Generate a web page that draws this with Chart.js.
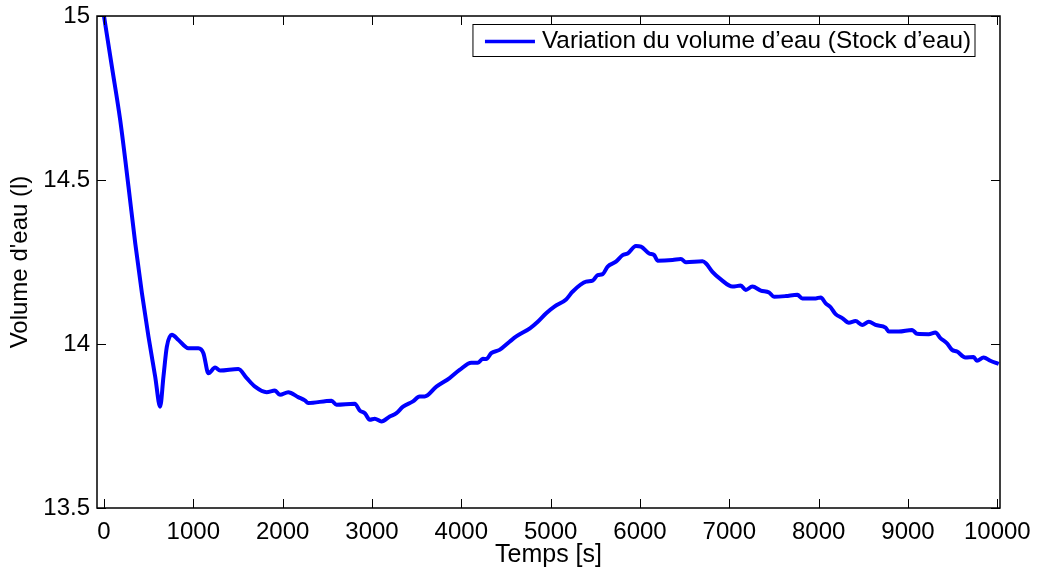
<!DOCTYPE html>
<html>
<head>
<meta charset="utf-8">
<script src="https://cdn.jsdelivr.net/npm/chart.js@4.4.1/dist/chart.umd.min.js"></script>
<style>
  body { margin: 0; background: #fff; }
  #wrap { width: 1037px; height: 574px; }
</style>
</head>
<body>
<div id="wrap"><canvas id="chart" width="1037" height="574"></canvas></div>
<script>
// time (s) and water volume (l)
const TIME_S = [
  0, 89, 182, 275, 350, 425, 498, 573, 629, 666, 704, 760, 834, 945, 1057,
  1113, 1169, 1244, 1299, 1504, 1598, 1691, 1821, 1914, 1970, 2063, 2174,
  2249, 2286, 2547, 2603, 2808, 2864, 2920, 2975, 3031, 3106, 3199, 3274,
  3348, 3459, 3534, 3590, 3721, 3869, 3981, 4112, 4186, 4241, 4279, 4335,
  4428, 4540, 4615, 4768, 4856, 4950, 5042, 5173, 5247, 5397, 5470, 5526,
  5582, 5638, 5731, 5806, 5862, 5955, 6011, 6103, 6159, 6197, 6365, 6458,
  6514, 6700, 6737, 6811, 6905, 7035, 7128, 7184, 7258, 7352, 7445, 7501,
  7631, 7762, 7817, 7967, 8023, 8079, 8134, 8190, 8264, 8338, 8413, 8487,
  8562, 8636, 8749, 8785, 8897, 9046, 9102, 9232, 9307, 9363, 9437, 9493,
  9549, 9642, 9735, 9772, 9847, 9922, 10015
];
const VOLUME_L = [
  15.000, 14.845, 14.682, 14.479, 14.307, 14.155, 14.023, 13.901, 13.809,
  13.901, 13.992, 14.028, 14.012, 13.987, 13.987, 13.972, 13.911, 13.928,
  13.919, 13.924, 13.896, 13.870, 13.853, 13.858, 13.845, 13.853, 13.838,
  13.828, 13.820, 13.827, 13.815, 13.818, 13.797, 13.789, 13.769, 13.772,
  13.764, 13.779, 13.789, 13.809, 13.825, 13.840, 13.840, 13.870, 13.896,
  13.921, 13.943, 13.943, 13.955, 13.954, 13.972, 13.982, 14.007, 14.023,
  14.048, 14.068, 14.094, 14.114, 14.136, 14.160, 14.190, 14.193, 14.210,
  14.213, 14.236, 14.251, 14.271, 14.276, 14.299, 14.297, 14.276, 14.271,
  14.254, 14.256, 14.259, 14.249, 14.252, 14.246, 14.220, 14.197, 14.175,
  14.178, 14.165, 14.175, 14.163, 14.157, 14.144, 14.146, 14.150, 14.139,
  14.139, 14.142, 14.124, 14.112, 14.091, 14.079, 14.065, 14.070, 14.058,
  14.068, 14.058, 14.050, 14.038, 14.038, 14.043, 14.031, 14.030, 14.035,
  14.018, 14.002, 13.982, 13.977, 13.959, 13.960, 13.949, 13.959, 13.949,
  13.939
];
const X_TICKS = [0, 1000, 2000, 3000, 4000, 5000, 6000, 7000, 8000, 9000, 10000];
const Y_TICKS = [13.5, 14, 14.5, 15];

const SERIES_LABEL = "Variation du volume d’eau (Stock d’eau)";
const X_TITLE = "Temps [s]";
const Y_TITLE = "Volume d'eau (l)";

const FONT = "'Liberation Sans', Arial, Helvetica, sans-serif";

// matlab style box + inward ticks on all 4 sides
const frameTicks = {
  id: "frameTicks",
  afterDatasetsDraw(chart) {
    const { ctx, chartArea: a, scales } = chart;
    const len = 9;
    ctx.save();
    ctx.strokeStyle = "#000";
    ctx.lineWidth = 1;
    ctx.beginPath();
    scales.x.ticks.forEach((t) => {
      const px = Math.round(scales.x.getPixelForValue(t.value)) + 0.5;
      ctx.moveTo(px, a.bottom);
      ctx.lineTo(px, a.bottom - len);
      ctx.moveTo(px, a.top);
      ctx.lineTo(px, a.top + len);
    });
    scales.y.ticks.forEach((t) => {
      const py = Math.round(scales.y.getPixelForValue(t.value)) + 0.5;
      ctx.moveTo(a.left, py);
      ctx.lineTo(a.left + len, py);
      ctx.moveTo(a.right, py);
      ctx.lineTo(a.right - len, py);
    });
    ctx.stroke();
    ctx.lineWidth = 1.5;
    ctx.strokeRect(a.left, a.top, a.right - a.left, a.bottom - a.top);
    ctx.restore();
  },
};

// legend box inside the plot, top right
const boxLegend = {
  id: "boxLegend",
  afterDraw(chart) {
    const { ctx, chartArea: a } = chart;
    const ds = chart.data.datasets[0];
    ctx.save();
    ctx.font = "24.3px " + FONT;
    const tw = ctx.measureText(ds.label).width;
    const h = 32;
    const w = 69 + tw + 4;
    const right = a.right - 25;
    const top = a.top + 8.5;
    const left = right - w;
    ctx.fillStyle = "#fff";
    ctx.fillRect(left, top, w, h);
    ctx.strokeStyle = "#000";
    ctx.lineWidth = 1;
    ctx.strokeRect(left, top, w, h);
    ctx.strokeStyle = ds.borderColor;
    ctx.lineWidth = 3.5;
    ctx.beginPath();
    ctx.moveTo(left + 12, top + h / 2 + 1);
    ctx.lineTo(left + 62, top + h / 2 + 1);
    ctx.stroke();
    ctx.fillStyle = "#000";
    ctx.textBaseline = "middle";
    ctx.fillText(ds.label, left + 69, top + h / 2 + 1);
    ctx.restore();
  },
};

const points = TIME_S.map((t, i) => ({ x: t, y: VOLUME_L[i] }));

new Chart(document.getElementById("chart"), {
  type: "line",
  data: {
    datasets: [
      {
        label: SERIES_LABEL,
        data: points,
        borderColor: "#0000ff",
        borderWidth: 4,
        pointRadius: 0,
        cubicInterpolationMode: "monotone",
        fill: false,
      },
    ],
  },
  options: {
    responsive: false,
    animation: false,
    layout: { padding: { top: 16, right: 37, left: 0, bottom: 0 } },
    plugins: {
      legend: { display: false },
      tooltip: { enabled: false },
    },
    scales: {
      x: {
        type: "linear",
        min: -78,
        max: 10030,
        afterBuildTicks: (s) => {
          s.ticks = X_TICKS.map((v) => ({ value: v }));
        },
        afterFit: (s) => {
          s.height = 66;
          s.paddingLeft = 0;
          s.paddingRight = 0;
        },
        grid: { display: false, drawTicks: false },
        border: { display: false },
        ticks: {
          padding: 10,
          color: "#000",
          maxRotation: 0,
          autoSkip: false,
          font: { family: FONT, size: 24 },
          callback: (v) => String(v),
        },
        title: {
          display: true,
          text: X_TITLE,
          color: "#000",
          font: { family: FONT, size: 25 },
          padding: { top: 0, bottom: 4 },
        },
      },
      y: {
        min: 13.5,
        max: 15,
        afterBuildTicks: (s) => {
          s.ticks = Y_TICKS.map((v) => ({ value: v }));
        },
        afterFit: (s) => {
          s.width = 97;
          s.paddingTop = 0;
          s.paddingBottom = 0;
        },
        grid: { display: false, drawTicks: false },
        border: { display: false },
        ticks: {
          padding: 7,
          color: "#000",
          autoSkip: false,
          font: { family: FONT, size: 24 },
          callback: (v) => String(v),
        },
        title: {
          display: true,
          text: Y_TITLE,
          color: "#000",
          font: { family: FONT, size: 24 },
          padding: { top: 6, bottom: 0 },
        },
      },
    },
  },
  plugins: [frameTicks, boxLegend],
});
</script>
</body>
</html>
